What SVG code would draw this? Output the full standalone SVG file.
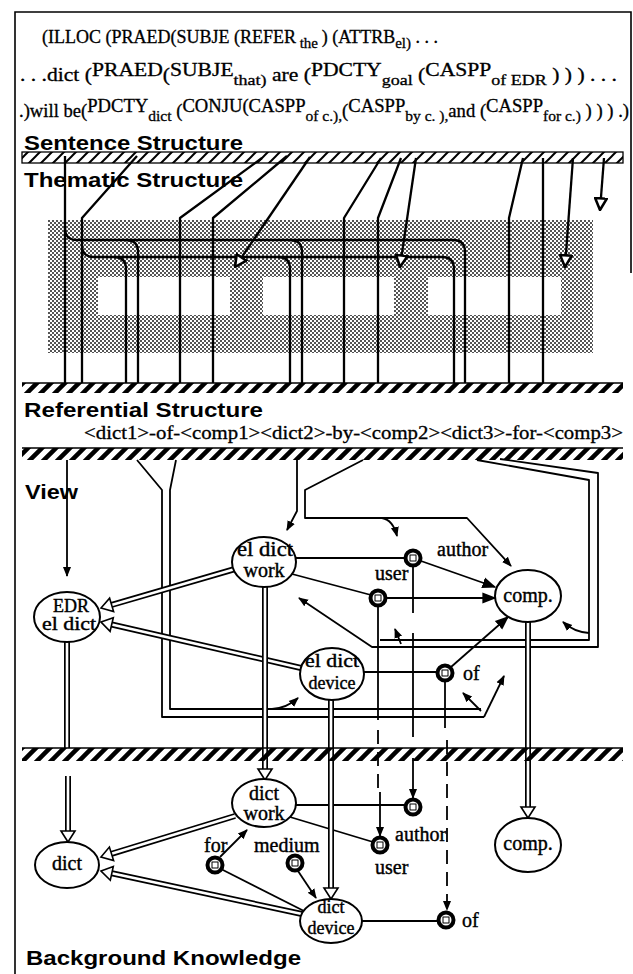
<svg xmlns="http://www.w3.org/2000/svg" width="633" height="974" viewBox="0 0 633 974">
<defs>
<pattern id="hs" patternUnits="userSpaceOnUse" width="12" height="12"><path d="M-3,3 L3,-3 M0,12 L12,0 M9,15 L15,9" stroke="#000" stroke-width="2"/></pattern>
<pattern id="hr" patternUnits="userSpaceOnUse" width="14" height="14"><path d="M-3,3 L3,-3 M0,14 L14,0 M11,17 L17,11" stroke="#000" stroke-width="4.5"/></pattern>
<pattern id="gr" patternUnits="userSpaceOnUse" width="4" height="4"><rect width="4" height="4" fill="#fff"/><rect width="2" height="2" fill="#555"/><rect x="2" y="2" width="2" height="2" fill="#555"/></pattern>
<marker id="a" viewBox="0 0 10 10" refX="9" refY="5" markerWidth="10" markerHeight="10" markerUnits="userSpaceOnUse" orient="auto"><path d="M0,1 L10,5 L0,9 z" fill="#000"/></marker>
<marker id="A" viewBox="0 0 10 10" refX="9" refY="5" markerWidth="14" markerHeight="14" markerUnits="userSpaceOnUse" orient="auto"><path d="M0,1 L10,5 L0,9 z" fill="#000"/></marker>
<marker id="h" viewBox="-1 -1 12 12" refX="10" refY="5" markerWidth="14" markerHeight="14" markerUnits="userSpaceOnUse" orient="auto"><path d="M0,0 L10,5 L0,10 z" fill="#fff" stroke="#000" stroke-width="2.2"/></marker>
<style>
.t{fill:none;stroke:#000;stroke-width:2.3;stroke-linejoin:round}
.v{fill:none;stroke:#000;stroke-width:1.8;stroke-linejoin:round}
.dash{stroke-dasharray:14 8}
.d1{fill:none;stroke:#000;stroke-width:6}
.d2{fill:none;stroke:#fff;stroke-width:2.6}
.ah{fill:#fff;stroke:#000;stroke-width:1.6}
.nd ellipse{fill:#fff;stroke:#000;stroke-width:2}
.nd text,.lb{font-family:"Liberation Serif","Times New Roman",serif;font-size:20px;fill:#000;stroke:#000;stroke-width:0.4}
.nd text{text-anchor:middle}
.nd .s{font-size:18px}
.sn circle{fill:#fff;stroke:#000;stroke-width:4}
.sn rect{fill:#fff;stroke:#000;stroke-width:1}
.hd{font-family:"Liberation Sans",Arial,sans-serif;font-weight:bold;font-size:20px;fill:#000}
.top{font-family:"Liberation Serif","Times New Roman",serif;font-size:18px;fill:#000;stroke:#000;stroke-width:0.3}
.sub{font-size:15px}
.fr{fill:none;stroke:#000;stroke-width:1.6}
</style>
</defs>
<rect width="633" height="974" fill="#fff"/>

<g id="frame">
<path class="fr" d="M15,974 V12 H631 V273"/>
</g>

<g id="sentence-text">
<text class="top" x="42" y="43" textLength="396" lengthAdjust="spacingAndGlyphs">(ILLOC (PRAED(SUBJE (REFER<tspan class="sub" dy="5"> the </tspan><tspan dy="-5">) (ATTRB</tspan><tspan class="sub" dy="5">el)</tspan><tspan dy="-5"> . . .</tspan></text>
<text class="top" x="20" y="81" textLength="597" lengthAdjust="spacingAndGlyphs">. . .dict (<tspan dy="-5">PRAED</tspan><tspan dy="5">(</tspan><tspan dy="-5">SUBJE</tspan><tspan class="sub" dy="9">that)</tspan><tspan dy="-4"> are (</tspan><tspan dy="-5">PDCTY</tspan><tspan class="sub" dy="9">goal</tspan><tspan dy="-4"> (</tspan><tspan dy="-5">CASPP</tspan><tspan class="sub" dy="9">of EDR</tspan><tspan dy="-4"> ) ) ) . . .</tspan></text>
<text class="top" x="19" y="117" textLength="610" lengthAdjust="spacingAndGlyphs">.)will be(<tspan dy="-5">PDCTY</tspan><tspan class="sub" dy="9">dict</tspan><tspan dy="-4"> (</tspan><tspan dy="-5">CONJU(CASPP</tspan><tspan class="sub" dy="9">of c.),</tspan><tspan dy="-4">(</tspan><tspan dy="-5">CASPP</tspan><tspan class="sub" dy="9">by c. ),</tspan><tspan dy="-4">and (</tspan><tspan dy="-5">CASPP</tspan><tspan class="sub" dy="9">for c.)</tspan><tspan dy="-4"> ) ) ) .)</tspan></text>
</g>

<g id="headings">
<text class="hd" x="24" y="150" textLength="219" lengthAdjust="spacingAndGlyphs">Sentence Structure</text>
<text class="hd" x="24" y="187" textLength="219" lengthAdjust="spacingAndGlyphs">Thematic Structure</text>
<text class="hd" x="24" y="417" textLength="239" lengthAdjust="spacingAndGlyphs">Referential Structure</text>
<text class="hd" x="25" y="499" textLength="53" lengthAdjust="spacingAndGlyphs">View</text>
<text class="hd" x="26" y="965" textLength="275" lengthAdjust="spacingAndGlyphs">Background Knowledge</text>
</g>

<g id="thematic-field">
<rect x="48" y="220" width="545" height="133" fill="url(#gr)"/>
<rect x="98" y="277" width="132" height="38" fill="#fff"/>
<rect x="263" y="277" width="131" height="38" fill="#fff"/>
<rect x="428" y="277" width="133" height="38" fill="#fff"/>
</g>

<g id="referential-text">
<text class="top" x="84" y="439" font-size="17" textLength="539" lengthAdjust="spacingAndGlyphs">&lt;dict1&gt;-of-&lt;comp1&gt;&lt;dict2&gt;-by-&lt;comp2&gt;&lt;dict3&gt;-for-&lt;comp3&gt;</text>
</g>

<g id="connectors">
<path class="t" d="M65,156 V383"/>
<path class="t" d="M65,228 Q65,240 77,240 H453 Q465,240 465,252 V383"/>
<path class="t" d="M126,240 Q138,240 138,252 V383"/>
<path class="t" d="M290,240 Q302,240 302,252 V383"/>
<path class="t" d="M137,156 L82,218 V383"/>
<path class="t" d="M82,245 Q82,257 94,257 H442 Q454,257 454,269 V383"/>
<path class="t" d="M114,257 Q126,257 126,269 V383"/>
<path class="t" d="M278,257 Q290,257 290,269 V383"/>
<path class="t" d="M262,158 L180,218 V383"/>
<path class="t" d="M287,156 L213,218 V383"/>
<path class="t" d="M310,157 L235,267" marker-end="url(#h)"/>
<path class="t" d="M381,158 L344,218 V383"/>
<path class="t" d="M401,158 L378,218 V383"/>
<path class="t" d="M416,158 L400,267" marker-end="url(#h)"/>
<path class="t" d="M523,158 L509,218 V383"/>
<path class="t" d="M543,158 V383"/>
<path class="t" d="M573,158 L565,267" marker-end="url(#h)"/>
<path class="t" d="M604,158 L600,210" marker-end="url(#h)"/>

<path class="v" d="M67,460 V576" marker-end="url(#a)"/>
<path class="v" d="M137,460 L162,490 V717 H484"/>
<path class="v" d="M176,460 L170,490 V709 H481"/>
<path class="v" d="M484,717 L504,676" marker-end="url(#a)"/>
<path class="v" d="M481,711 L463,693" marker-end="url(#a)"/>
<path class="v" d="M272,709 Q287,708 298,698" marker-end="url(#a)"/>
<path class="v" d="M297,460 V511 L287,530" marker-end="url(#a)"/>
<path class="v" d="M363,460 L305,490 V518 H467 L511,566" marker-end="url(#a)"/>
<path class="v" d="M382,518 Q393,520 397,536" marker-end="url(#a)"/>
<path class="v" d="M477,460 L589,480 V640 H380"/>
<path class="v" d="M500,459 L598,473 V647 H372 L299,598" marker-end="url(#a)"/>
<path class="v" d="M401,644 L395,629" marker-end="url(#a)"/>
<path class="v" d="M589,633 Q574,632 563,622" marker-end="url(#a)"/>

<path class="v" d="M296,558 H405"/>
<path class="v" d="M292,574 L371,595"/>
<path class="v" d="M421,561 L495,587" marker-end="url(#A)"/>
<path class="v" d="M386,598 H495" marker-end="url(#A)"/>
<path class="v" d="M363,672 H437"/>
<path class="v" d="M451,667 L508,617" marker-end="url(#A)"/>
<path class="v" d="M413,566 V613 M413,633 V737"/>
<path class="v" d="M378,606 V720"/>
<path class="v" d="M445,681 V728"/>

<path class="v" d="M413,758 V798" marker-end="url(#a)"/>
<path class="v dash" d="M378,730 V790"/>
<path class="v" d="M380,792 V836" marker-end="url(#a)"/>
<path class="v dash" d="M447,740 V910" marker-end="url(#a)"/>
<path class="v" d="M296,805 H405"/>
<path class="v" d="M290,817 L373,842"/>
<path class="v" d="M362,921 H438"/>
<path class="v" d="M221,869 L304,911"/>
<path class="v" d="M298,871 L316,898" marker-end="url(#a)"/>
<path class="v" d="M220,857 L247,830" marker-end="url(#a)"/>

<path class="d1" d="M235,569 L111.6,604.9"/><path class="d2" d="M235,569 L111.6,604.9"/>
<polygon class="ah" points="101,608 113.6,611.6 109.6,598.2"/>
<path class="d1" d="M301,668 L111.7,624.5"/><path class="d2" d="M301,668 L111.7,624.5"/>
<polygon class="ah" points="101,622 113.3,617.7 110.1,631.3"/>
<path class="d1" d="M67,642 V748"/><path class="d2" d="M67,642 V748"/>
<path class="d1" d="M68,776 V831"/><path class="d2" d="M68,776 V831"/>
<polygon class="ah" points="68,842 61,831 75,831"/>
<path class="d1" d="M265,587 V769"/><path class="d2" d="M265,587 V769"/>
<polygon class="ah" points="265,780 258,769 272,769"/>
<path class="d1" d="M331,700 V888"/><path class="d2" d="M331,700 V888"/>
<polygon class="ah" points="331,899 324,888 338,888"/>
<path class="d1" d="M528,622 V807"/><path class="d2" d="M528,622 V807"/>
<polygon class="ah" points="528,818 521,807 535,807"/>
<path class="d1" d="M235,816 L111.5,853.8"/><path class="d2" d="M235,816 L111.5,853.8"/>
<polygon class="ah" points="101,857 109.4,847.1 113.6,860.5"/>
<path class="d1" d="M302,914 L111.8,873.3"/><path class="d2" d="M302,914 L111.8,873.3"/>
<polygon class="ah" points="101,871 113.3,866.5 110.3,880.2"/>
</g>

<g id="bars">
<rect x="22" y="152" width="601" height="11" fill="url(#hs)" stroke="#000" stroke-width="1.3"/>
<rect x="22" y="383" width="601" height="10" fill="url(#hr)"/>
<line x1="22" y1="383" x2="623" y2="383" stroke="#000" stroke-width="1.5"/>
<rect x="22" y="448" width="601" height="12" fill="url(#hr)"/>
<line x1="22" y1="448" x2="623" y2="448" stroke="#000" stroke-width="1.5"/>
<rect x="22" y="748" width="601" height="13" fill="url(#hr)"/>
<line x1="22" y1="748" x2="623" y2="748" stroke="#000" stroke-width="1.5"/>
</g>

<g id="n-edr" class="nd"><ellipse cx="67" cy="617" rx="33" ry="25"/><text class="s" x="71" y="612">EDR</text><text class="s" x="69" y="630" textLength="54" lengthAdjust="spacingAndGlyphs">el dict</text></g>
<g id="n-eldictwork" class="nd"><ellipse cx="264" cy="562" rx="32" ry="25"/><text x="265" y="556" textLength="56" lengthAdjust="spacingAndGlyphs">el dict</text><text x="264" y="577">work</text></g>
<g id="n-eldictdevice" class="nd"><ellipse cx="332" cy="674" rx="32" ry="26"/><text class="s" x="332" y="667" textLength="54" lengthAdjust="spacingAndGlyphs">el dict</text><text class="s" x="332" y="689">device</text></g>
<g id="n-comp-view" class="nd"><ellipse cx="528" cy="596" rx="33" ry="26"/><text x="528" y="602">comp.</text></g>
<g id="n-dict" class="nd"><ellipse cx="67" cy="865" rx="32" ry="23"/><text x="67" y="870">dict</text></g>
<g id="n-dictwork" class="nd"><ellipse cx="264" cy="803" rx="32" ry="24"/><text x="264" y="800">dict</text><text x="264" y="820">work</text></g>
<g id="n-dictdevice" class="nd"><ellipse cx="331" cy="921" rx="31" ry="22"/><text class="s" x="331" y="913">dict</text><text class="s" x="331" y="934">device</text></g>
<g id="n-comp-bg" class="nd"><ellipse cx="528" cy="845" rx="33" ry="27"/><text x="528" y="850">comp.</text></g>

<g id="s-author-view" class="sn"><circle cx="413" cy="558" r="7.5"/><rect x="410" y="555" width="6" height="6"/></g>
<g id="s-user-view" class="sn"><circle cx="378" cy="598" r="7.5"/><rect x="375" y="595" width="6" height="6"/></g>
<g id="s-of-view" class="sn"><circle cx="445" cy="673" r="7.5"/><rect x="442" y="670" width="6" height="6"/></g>
<g id="s-author-bg" class="sn"><circle cx="413" cy="807" r="7.5"/><rect x="410" y="804" width="6" height="6"/></g>
<g id="s-user-bg" class="sn"><circle cx="380" cy="845" r="7.5"/><rect x="377" y="842" width="6" height="6"/></g>
<g id="s-of-bg" class="sn"><circle cx="446" cy="920" r="7.5"/><rect x="443" y="917" width="6" height="6"/></g>
<g id="s-for-bg" class="sn"><circle cx="215" cy="865" r="7.5"/><rect x="212" y="862" width="6" height="6"/></g>
<g id="s-medium-bg" class="sn"><circle cx="295" cy="863" r="7.5"/><rect x="292" y="860" width="6" height="6"/></g>

<g id="labels">
<text class="lb" x="437" y="556">author</text>
<text class="lb" x="375" y="580">user</text>
<text class="lb" x="463" y="680">of</text>
<text class="lb" x="395" y="841">author</text>
<text class="lb" x="375" y="874">user</text>
<text class="lb" x="462" y="927">of</text>
<text class="lb" x="204" y="852">for</text>
<text class="lb" x="254" y="852">medium</text>
</g>
</svg>
